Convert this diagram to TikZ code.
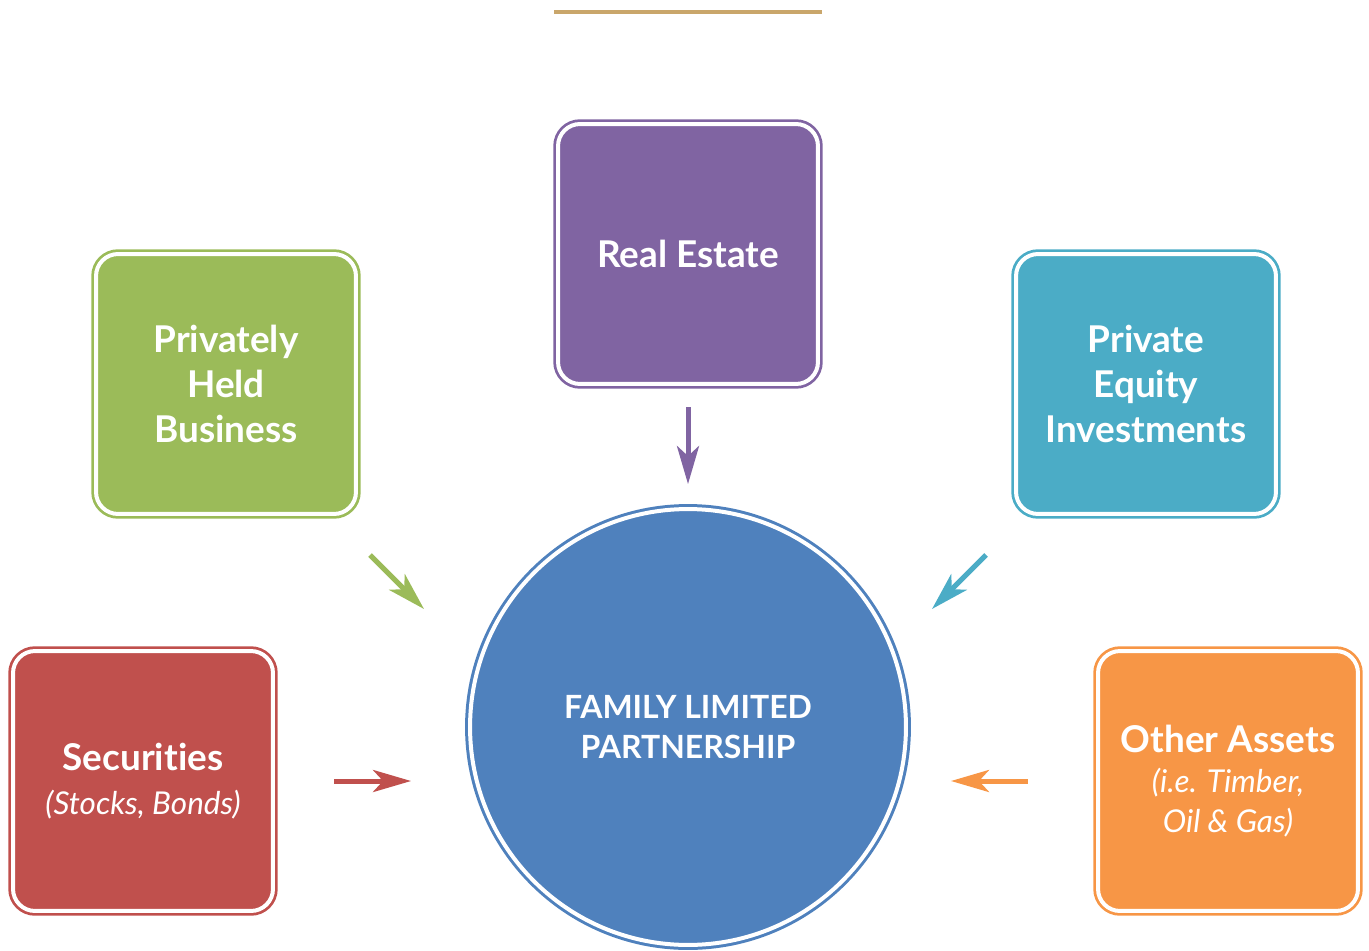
\documentclass[tikz,border=0pt]{standalone}
\usepackage{fontspec}
\setmainfont{Lato}[Ligatures=NoCommon]
\usetikzlibrary{arrows.meta}
\definecolor{hubblue}{HTML}{4F81BD}
\definecolor{secred}{HTML}{C0504D}
\definecolor{bizgreen}{HTML}{9BBB59}
\definecolor{estpurple}{HTML}{8064A2}
\definecolor{eqaqua}{HTML}{4BACC6}
\definecolor{othorange}{HTML}{F79646}
\definecolor{bartan}{HTML}{C9A66B}

\begin{document}
\begin{tikzpicture}[
  x=0.02cm,y=-0.02cm,
  asset/.style={draw=#1,fill=#1,line width=0.055cm,double=white,
    double distance=0.08cm,rounded corners=0.44cm,minimum size=5.2cm,
    inner sep=0pt,outer sep=0pt,align=center,text=white,
    font=\fontsize{21}{25.6}\selectfont\bfseries},
  hub/.style={circle,draw=hubblue,fill=hubblue,line width=0.06cm,
    double=white,double distance=0.08cm,minimum size=8.72cm,
    inner sep=0pt,outer sep=0pt,align=center,text=white,
    font=\fontsize{18.2}{22.8}\selectfont\bfseries},
  flow/.style={line width=0.1cm,
    -{Stealth[length=0.76cm,width=0.44cm,inset=0.2cm]}}
]
\useasboundingbox (0,0) rectangle (1369,950);

\node[fill=bartan,minimum width=5.36cm,minimum height=0.08cm,
  inner sep=0pt] (bar) at (688,12) {};

\node[asset=estpurple] (estate) at (688,254) {Real Estate};
\node[asset=bizgreen] (business) at (226,384) {Privately\\Held\\Business};
\node[asset=eqaqua] (equity) at (1146,384) {Private\\Equity\\Investments};
\node[asset=secred] (securities) at (143,781)
  {Securities\\[-1pt]{\fontsize{17.9}{23}\selectfont\mdseries\itshape (Stocks, Bonds)}};
\node[asset=othorange] (other) at (1228,781)
  {Other Assets\\[-2.5pt]{\fontsize{17.9}{23}\selectfont\mdseries\itshape (i.e. Timber,}\\[-3pt]
   {\fontsize{17.9}{23}\selectfont\mdseries\itshape Oil \& Gas)}};
\node[hub] (flp) at (688,727) {FAMILY LIMITED\\PARTNERSHIP};

% diagonal arrows stop short of both ends
\coordinate (bizfrom) at (370,555);
\coordinate (bizto) at (424,609);
\coordinate (eqfrom) at (986,555);
\coordinate (eqto) at (932,609);

\draw[flow,draw=estpurple,fill=estpurple,shorten <=0.47cm,shorten >=0.5cm]
  (estate) -- (flp);
\draw[flow,draw=bizgreen,fill=bizgreen] (bizfrom) -- (bizto);
\draw[flow,draw=eqaqua,fill=eqaqua] (eqfrom) -- (eqto);
\draw[flow,draw=secred,fill=secred,shorten <=1.23cm,shorten >=1.18cm]
  (securities.east) -- (securities.east -| flp.west);
\draw[flow,draw=othorange,fill=othorange,shorten <=1.41cm,shorten >=0.9cm]
  (other.west) -- (other.west -| flp.east);
\end{tikzpicture}
\end{document}
